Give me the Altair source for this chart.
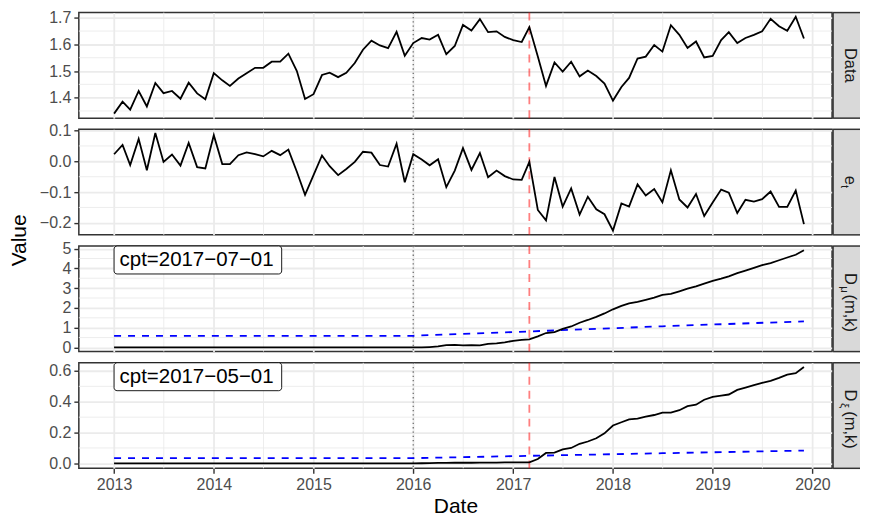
import altair as alt
import pandas as pd

FONT = "Liberation Sans"

# ---------------- data ----------------
months = pd.date_range("2013-01-01", "2019-12-01", freq="MS")

data_vals = [
    1.340, 1.385, 1.355, 1.425, 1.367, 1.455, 1.417, 1.425, 1.396, 1.456, 1.416, 1.394,
    1.492, 1.465, 1.444, 1.472, 1.492, 1.512, 1.512, 1.535, 1.535, 1.565, 1.500, 1.395,
    1.413, 1.485, 1.494, 1.477, 1.493, 1.530, 1.580, 1.614, 1.596, 1.586, 1.647, 1.557,
    1.605, 1.624, 1.618, 1.636, 1.563, 1.594, 1.673, 1.652, 1.695, 1.646, 1.649, 1.628,
    1.616, 1.609, 1.665, 1.555, 1.444, 1.532, 1.498, 1.535, 1.480, 1.502, 1.481, 1.453,
    1.389, 1.440, 1.474, 1.547, 1.554, 1.598, 1.573, 1.672, 1.636, 1.587, 1.611, 1.551,
    1.557, 1.616, 1.646, 1.605, 1.624, 1.636, 1.649, 1.696, 1.668, 1.651, 1.704, 1.622,
]

et_vals = [
    0.023, 0.053, -0.012, 0.073, -0.029, 0.092, -0.002, 0.022, -0.014, 0.060, -0.019, -0.023,
    0.085, -0.009, -0.009, 0.020, 0.029, 0.023, 0.016, 0.034, 0.020, 0.038, -0.034, -0.109,
    -0.045, 0.019, -0.016, -0.045, -0.025, -0.002, 0.031, 0.028, -0.012, -0.017, 0.057, -0.068,
    0.023, 0.006, -0.013, 0.007, -0.084, -0.030, 0.043, -0.028, 0.027, -0.052, -0.030, -0.048,
    -0.059, -0.060, -0.002, -0.158, -0.192, -0.051, -0.147, -0.088, -0.173, -0.115, -0.156, -0.172,
    -0.225, -0.137, -0.147, -0.075, -0.111, -0.090, -0.133, -0.029, -0.124, -0.150, -0.106, -0.178,
    -0.134, -0.092, -0.102, -0.168, -0.125, -0.131, -0.123, -0.098, -0.148, -0.148, -0.095, -0.204,
]

dmu_vals = [
    0, 0, 0, 0, 0, 0, 0, 0, 0, 0, 0, 0,
    0, 0, 0, 0, 0, 0, 0, 0, 0, 0, 0, 0,
    0, 0, 0, 0, 0, 0, 0, 0, 0, 0, 0, 0,
    0.00, 0.00, 0.02, 0.05, 0.12, 0.13, 0.10, 0.12, 0.10, 0.18, 0.21, 0.26,
    0.33, 0.38, 0.41, 0.56, 0.73, 0.78, 0.94, 1.06, 1.25, 1.39, 1.55, 1.72,
    1.93, 2.10, 2.23, 2.31, 2.41, 2.52, 2.66, 2.71, 2.84, 2.97, 3.09, 3.23,
    3.37, 3.48, 3.60, 3.76, 3.89, 4.03, 4.16, 4.27, 4.41, 4.55, 4.69, 4.92,
]

dxi_vals = [
    0, 0, 0, 0, 0, 0, 0, 0, 0, 0, 0, 0,
    0, 0, 0, 0, 0, 0, 0, 0, 0, 0, 0, 0,
    0, 0, 0, 0, 0, 0, 0, 0, 0, 0, 0, 0,
    0.000, 0.001, 0.002, 0.003, 0.003, 0.004, 0.004, 0.004, 0.005, 0.005, 0.005, 0.006,
    0.006, 0.006, 0.007, 0.028, 0.068, 0.070, 0.091, 0.100, 0.127, 0.142, 0.163, 0.195,
    0.246, 0.267, 0.286, 0.290, 0.303, 0.314, 0.330, 0.330, 0.345, 0.371, 0.381, 0.413,
    0.432, 0.440, 0.447, 0.477, 0.492, 0.508, 0.523, 0.536, 0.555, 0.576, 0.585, 0.625,
]

thr_dates = pd.to_datetime(["2013-01-01", "2016-01-01", "2017-03-01", "2018-07-01", "2019-12-01"])
thr_mu = [0.59, 0.59, 0.81, 1.07, 1.32]
thr_xi = [0.034, 0.034, 0.049, 0.066, 0.083]

monitor_start = pd.to_datetime(["2016-01-01"])
change_point = pd.to_datetime(["2017-03-01"])

cpt_mu = "cpt=2017\u221207\u221201"
cpt_xi = "cpt=2017\u221205\u221201"

year_ticks = list(range(2013, 2021))
minor_x = pd.to_datetime([f"{y}-07-02" for y in range(2013, 2020)])

# ---------------- layout constants ----------------
W = 755
H = 105.8
GAP = 11
SB = 12.5   # strip baseline offset (main text)
SS = 9.3    # strip baseline offset (subscript)
GRID = "#EBEBEB"
one = pd.DataFrame({"a": [0]})

panels = [
    dict(values=data_vals, thr=None, domain=[1.323, 1.7195],
         ticks=[1.4, 1.5, 1.6, 1.7], minor=[1.35, 1.45, 1.55, 1.65], fmt=".1f",
         label=None, strip=[("Data", 16.5, 0, SB, "center")]),
    dict(values=et_vals, thr=None, domain=[-0.239, 0.104],
         ticks=[-0.2, -0.1, 0.0, 0.1], minor=[-0.15, -0.05, 0.05], fmt=".1f",
         label=None, strip=[("e", 16.5, -6.3, SB, "left"), ("t", 11.5, 2.9, SS, "left")]),
    dict(values=dmu_vals, thr=thr_mu, domain=[-0.21, 5.13],
         ticks=[0, 1, 2, 3, 4, 5], minor=[0.5, 1.5, 2.5, 3.5, 4.5], fmt="d",
         label=cpt_mu,
         strip=[("D", 16.5, -26, SB, "left"), ("\u03bc", 11.5, -12.5, SS, "left"),
                ("(m,k)", 16.5, -4.3, SB, "left")]),
    dict(values=dxi_vals, thr=thr_xi, domain=[-0.032, 0.653],
         ticks=[0.0, 0.2, 0.4, 0.6], minor=[0.1, 0.3, 0.5], fmt=".1f",
         label=cpt_xi,
         strip=[("D", 16.5, -26, SB, "left"), ("\u03be", 11.5, -12.5, SS, "left"),
                ("(m,k)", 16.5, -4.3, SB, "left")]),
]

xs = alt.Scale(domain=[alt.DateTime(year=2012, month=8, date=25),
                       alt.DateTime(year=2020, month=3, date=13)], nice=False)
year_dt = [alt.DateTime(year=y, month=1, date=1) for y in year_ticks]
start_dt = alt.DateTime(year=2013, month=1, date=1)


def make_panel(i, p):
    bottom = i == len(panels) - 1
    ys = alt.Scale(domain=p["domain"], nice=False, zero=False)
    if bottom:
        xaxis = alt.Axis(values=year_dt, format="%Y", labels=True, ticks=True,
                         domain=False, grid=True, title="Date",
                         titleFontSize=21, titleFontWeight="normal", titleColor="black",
                         titlePadding=3, labelPadding=3)
    else:
        xaxis = alt.Axis(values=year_dt, format="%Y", labels=False, ticks=False,
                         domain=False, grid=True, title=None)
    yaxis = alt.Axis(values=p["ticks"], format=p["fmt"], title=None, grid=True,
                     labels=True, ticks=True, domain=False, labelPadding=3)

    def X(field="date:T"):
        return alt.X(field, scale=xs, axis=xaxis)

    def Y(field="value:Q"):
        return alt.Y(field, scale=ys, axis=yaxis)

    df = pd.DataFrame({"date": months, "value": p["values"]})
    layers = []
    # minor grid
    layers.append(alt.Chart(pd.DataFrame({"date": minor_x})).mark_rule(
        color=GRID, strokeWidth=0.9).encode(x=X()))
    layers.append(alt.Chart(pd.DataFrame({"value": p["minor"]})).mark_rule(
        color=GRID, strokeWidth=0.9).encode(y=Y()))
    # vertical markers
    layers.append(alt.Chart(pd.DataFrame({"date": monitor_start})).mark_rule(
        color="#6E6E6E", strokeWidth=1.3, strokeDash=[1.3, 3]).encode(x=X()))
    layers.append(alt.Chart(pd.DataFrame({"date": change_point})).mark_rule(
        color="#FF0000", opacity=0.5, strokeWidth=1.8, strokeDash=[8, 6]).encode(x=X()))
    # threshold
    if p["thr"] is not None:
        tdf = pd.DataFrame({"date": thr_dates, "value": p["thr"]})
        layers.append(alt.Chart(tdf).mark_line(
            color="#0000FF", strokeWidth=1.8, strokeDash=[7, 7]).encode(x=X(), y=Y()))
    # main series
    layers.append(alt.Chart(df).mark_line(color="black", strokeWidth=1.8).encode(
        x=X(), y=Y()))
    # label box
    if p["label"] is not None:
        layers.append(alt.Chart(one).mark_rect(
            fill="white", stroke="black", strokeWidth=0.9, cornerRadius=3,
            width=168, xOffset=84).encode(
            x=alt.X(datum=start_dt, type="temporal", scale=xs, axis=xaxis),
            y=alt.value(0), y2=alt.value(28)))
        layers.append(alt.Chart(one).mark_text(
            text=p["label"], align="left", baseline="middle", dx=5.5,
            fontSize=20.5, color="black", font=FONT).encode(
            x=alt.X(datum=start_dt, type="temporal", scale=xs, axis=xaxis),
            y=alt.value(14.5)))
    # strip
    layers.append(alt.Chart(one).mark_rect(fill="#D9D9D9").encode(
        x=alt.value(W + 1), x2=alt.value(W + 28), y=alt.value(0), y2=alt.value(H)))
    layers.append(alt.Chart(one).mark_rule(color="#333333", strokeWidth=1.5).encode(
        x=alt.value(W + 1), y=alt.value(0), y2=alt.value(H)))
    layers.append(alt.Chart(one).mark_rule(color="#333333", strokeWidth=1.5).encode(
        x=alt.value(W + 1), x2=alt.value(W + 28), y=alt.value(0)))
    layers.append(alt.Chart(one).mark_rule(color="#333333", strokeWidth=1.5).encode(
        x=alt.value(W + 1), x2=alt.value(W + 28), y=alt.value(H)))
    for txt, fs, along, bx, al in p["strip"]:
        layers.append(alt.Chart(one).mark_text(
            text=txt, angle=90, align=al, baseline="alphabetic", fontSize=fs,
            color="#1A1A1A", font=FONT).encode(
            x=alt.value(W + bx), y=alt.value(H / 2 + along)))
    # shared y title
    if i == 1:
        layers.append(alt.Chart(one).mark_text(
            text="Value", angle=270, align="center", baseline="middle",
            fontSize=21, color="black", font=FONT).encode(
            x=alt.value(-59.2), y=alt.value(H + GAP / 2)))
    return alt.layer(*layers).properties(width=W, height=H)


chart = alt.vconcat(*[make_panel(i, p) for i, p in enumerate(panels)],
                    spacing=GAP, bounds="flush").properties(
    padding={"left": 0, "top": 0, "right": 0, "bottom": 0}
).configure(font=FONT).configure_view(
    stroke="#333333", strokeWidth=1.5
).configure_axis(
    gridColor=GRID, gridWidth=1.8, tickColor="#333333", tickWidth=1.4, tickSize=5,
    labelColor="#4D4D4D", labelFontSize=16, labelFont=FONT, titleFont=FONT
)

chart.save("out.html", embed_options={"renderer": "svg", "actions": False})
